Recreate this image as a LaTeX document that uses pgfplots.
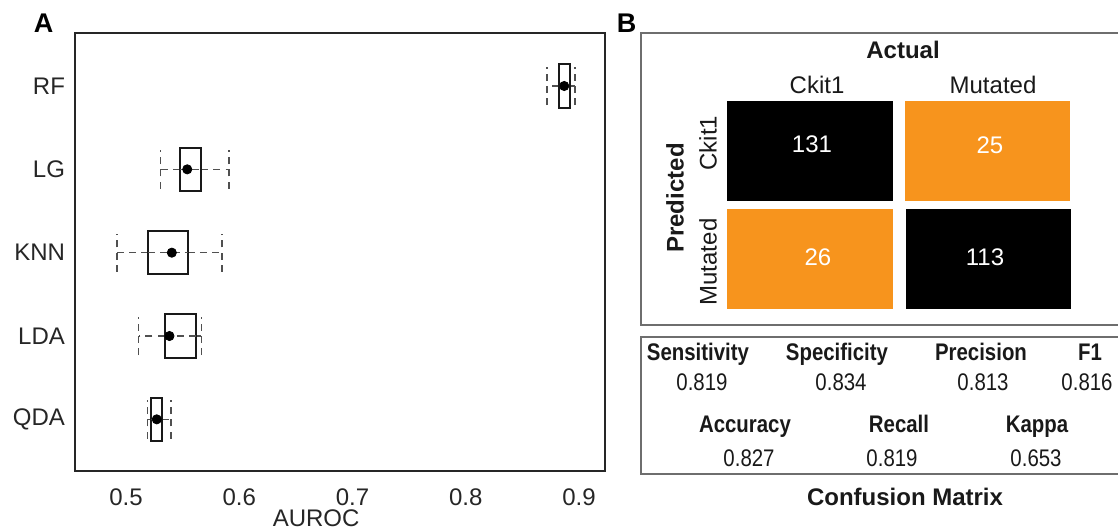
\documentclass[border=0pt]{standalone}
\usepackage{fontspec}
\setmainfont{Liberation Sans}
\newfontfamily\tabfont[FakeStretch=0.85]{Liberation Sans}
\usepackage{pgfplots}
\pgfplotsset{compat=1.18}
\usepgfplotslibrary{statistics}
\definecolor{cmorange}{RGB}{247,148,29}
\definecolor{wgray}{RGB}{80,80,80}
\definecolor{framegray}{RGB}{110,110,110}
\begin{document}
\begin{tikzpicture}
\useasboundingbox (0,0) rectangle (559pt,-265.5pt);
\clip (0,0) rectangle (559pt,-265.5pt);
% ---------------- Panel A ----------------
\begin{axis}[
  at={(37.5pt,-235.5pt)}, anchor=south west,
  scale only axis, width=265pt, height=218.75pt,
  xmin=0.455, xmax=0.923, ymin=0.38, ymax=5.63,
  xtick={0.5,0.6,0.7,0.8,0.9}, xticklabels={0.5,0.6,0.7,0.8,0.9},
  ytick={1,2,3,4,5}, yticklabels={QDA,LDA,KNN,LG,RF},
  major tick length=0pt,
  axis line style={line width=1pt, draw=black!85},
  tick label style={font=\fontsize{12}{14}\selectfont, text=black!85},
  xticklabel style={yshift=-5.25pt},
  yticklabel style={xshift=-1.5pt},
  xlabel={AUROC},
  xlabel style={font=\fontsize{12}{14}\selectfont, text=black!85, at={(rel axis cs:0.455,0)}, anchor=center, yshift=-23.8pt},
  boxplot/draw direction=x,
  boxplot/box extend=0.52,
  boxplot/whisker extend=0.46,
  boxplot/every whisker/.style={draw=wgray, dash pattern=on 3.5pt off 2.6pt, line width=0.75pt},
  boxplot/every box/.style={draw=black!90, line width=1pt},
  boxplot/every median/.style={draw=none},
  clip=false,
]
% RF
\addplot[boxplot prepared={draw position=5, lower whisker=0.872, lower quartile=0.8825, median=0.887, upper quartile=0.892, upper whisker=0.8965}] coordinates {};
\addplot[draw=wgray, dash pattern=on 3.5pt off 2.6pt, line width=0.75pt] coordinates {(0.8825,5) (0.892,5)};
% LG
\addplot[boxplot prepared={draw position=4, lower whisker=0.5307, lower quartile=0.5475, median=0.5541, upper quartile=0.5664, upper whisker=0.5908}] coordinates {};
\addplot[draw=wgray, dash pattern=on 3.5pt off 2.6pt, line width=0.75pt] coordinates {(0.5475,4) (0.5664,4)};
% KNN
\addplot[boxplot prepared={draw position=3, lower whisker=0.4923, lower quartile=0.5196, median=0.5405, upper quartile=0.5545, upper whisker=0.5849}] coordinates {};
\addplot[draw=wgray, dash pattern=on 3.5pt off 2.6pt, line width=0.75pt] coordinates {(0.5196,3) (0.5545,3)};
% LDA
\addplot[boxplot prepared={draw position=2, lower whisker=0.5112, lower quartile=0.5342, median=0.5384, upper quartile=0.5622, upper whisker=0.5667}] coordinates {};
\addplot[draw=wgray, dash pattern=on 3.5pt off 2.6pt, line width=0.75pt] coordinates {(0.5342,2) (0.5622,2)};
% QDA
\addplot[boxplot prepared={draw position=1, lower whisker=0.5189, lower quartile=0.5224, median=0.5272, upper quartile=0.5314, upper whisker=0.5398}] coordinates {};
\addplot[draw=wgray, dash pattern=on 3.5pt off 2.6pt, line width=0.75pt] coordinates {(0.5224,1) (0.5314,1)};
% medians (dots)
\addplot[only marks, mark=*, mark size=2.3pt, black] coordinates {(0.887,5) (0.5541,4) (0.5405,3) (0.5384,2) (0.5272,1)};
\end{axis}
\node[font=\bfseries\fontsize{13.5}{16}\selectfont] at (21.75pt,-11.5pt) {A};
% ---------------- Panel B ----------------
\node[font=\bfseries\fontsize{13.5}{16}\selectfont] at (313.25pt,-11.75pt) {B};
\draw[framegray, line width=0.75pt] (320.5pt,-16.5pt) rectangle (565pt,-162.5pt);
\draw[framegray, line width=0.75pt] (320.5pt,-168.5pt) rectangle (565pt,-237pt);
\begin{axis}[
  at={(363.5pt,-154.5pt)}, anchor=south west,
  scale only axis, width=172pt, height=104pt,
  xmin=0, xmax=2, ymin=0, ymax=2,
  hide axis, clip=false,
]
\addplot[fill=black, draw=none] coordinates {(0,1.038) (0.965,1.038) (0.965,2) (0,2)} -- cycle;
\addplot[fill=cmorange, draw=none] coordinates {(1.035,1.038) (1.995,1.038) (1.995,2) (1.035,2)} -- cycle;
\addplot[fill=cmorange, draw=none] coordinates {(0,0) (0.965,0) (0.965,0.962) (0,0.962)} -- cycle;
\addplot[fill=black, draw=none] coordinates {(1.04,0) (2,0) (2,0.962) (1.04,0.962)} -- cycle;
\addplot[draw=none, mark=none, nodes near coords, point meta=explicit symbolic,
  nodes near coords style={anchor=center, text=white, font=\fontsize{12}{14}\selectfont}]
  coordinates {(0.494,1.587) [131] (1.529,1.572) [25] (0.529,0.495) [26] (1.5,0.495) [113]};
\end{axis}
\begin{scope}[every node/.style={font=\fontsize{12}{14}\selectfont, text=black!90, inner sep=0pt}]
\node[font=\bfseries\fontsize{12}{14}\selectfont] at (451.5pt,-25pt) {Actual};
\node at (408.5pt,-42.5pt) {Ckit1};
\node at (496.5pt,-42.5pt) {Mutated};
\node[rotate=90] at (354pt,-71.5pt) {Ckit1};
\node[rotate=90] at (354pt,-131pt) {Mutated};
\node[rotate=90, font=\bfseries\fontsize{12}{14}\selectfont] at (337.5pt,-99pt) {Predicted};
\node[anchor=base, font=\bfseries\fontsize{12}{14}\selectfont] at (452.5pt,-252.5pt) {Confusion Matrix};
\end{scope}
\begin{scope}[every node/.style={anchor=base, inner sep=0pt, text=black!90}]
\node[font=\tabfont\bfseries\fontsize{12}{14}\selectfont] at (349pt,-180pt) {Sensitivity};
\node[font=\tabfont\bfseries\fontsize{12}{14}\selectfont] at (418.5pt,-180pt) {Specificity};
\node[font=\tabfont\bfseries\fontsize{12}{14}\selectfont] at (490.5pt,-180pt) {Precision};
\node[font=\tabfont\bfseries\fontsize{12}{14}\selectfont] at (545pt,-180pt) {F1};
\node[font=\tabfont\fontsize{12}{14}\selectfont] at (351pt,-195pt) {0.819};
\node[font=\tabfont\fontsize{12}{14}\selectfont] at (420.5pt,-195pt) {0.834};
\node[font=\tabfont\fontsize{12}{14}\selectfont] at (491.5pt,-195pt) {0.813};
\node[font=\tabfont\fontsize{12}{14}\selectfont] at (543.5pt,-195pt) {0.816};
\node[font=\tabfont\bfseries\fontsize{12}{14}\selectfont] at (372.5pt,-216.3pt) {Accuracy};
\node[font=\tabfont\bfseries\fontsize{12}{14}\selectfont] at (449.5pt,-216.3pt) {Recall};
\node[font=\tabfont\bfseries\fontsize{12}{14}\selectfont] at (518.5pt,-216.3pt) {Kappa};
\node[font=\tabfont\fontsize{12}{14}\selectfont] at (374.5pt,-233.3pt) {0.827};
\node[font=\tabfont\fontsize{12}{14}\selectfont] at (446pt,-233.3pt) {0.819};
\node[font=\tabfont\fontsize{12}{14}\selectfont] at (518pt,-233.3pt) {0.653};
\end{scope}
\end{tikzpicture}
\end{document}
